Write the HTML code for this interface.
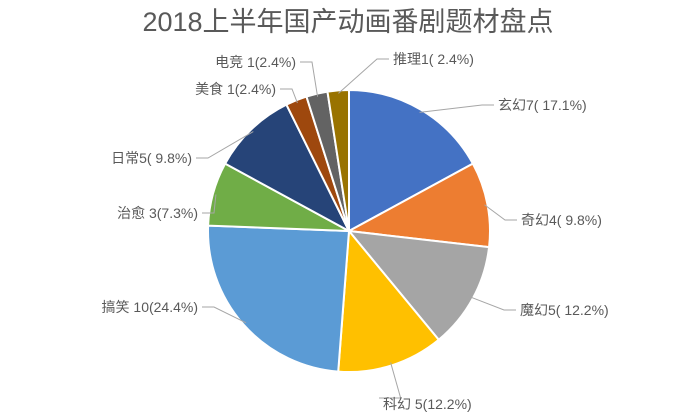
<!DOCTYPE html>
<html><head><meta charset="utf-8">
<style>
body{margin:0;background:#fff;}
svg text{font-family:"Liberation Sans","Noto Sans CJK SC",sans-serif;fill:#595959;}
</style></head>
<body>
<svg id="chart" width="694" height="413">
<text x="348" y="31" font-size="27" text-anchor="middle">2018上半年国产动画番剧题材盘点</text>
<g id="slices"></g>
<g id="labels"></g>
</svg>
<script>
const categories=["玄幻","奇幻","魔幻","科幻","搞笑","治愈","日常","美食","电竞","推理"];
const values=[7,4,5,5,10,3,4,1,1,1];
const labelTexts=["玄幻7( 17.1%)","奇幻4( 9.8%)","魔幻5( 12.2%)","科幻 5(12.2%)","搞笑 10(24.4%)","治愈 3(7.3%)","日常5( 9.8%)","美食 1(2.4%)","电竞 1(2.4%)","推理1( 2.4%)"];
const colors=["#4472C4","#ED7D31","#A5A5A5","#FFC000","#5B9BD5","#70AD47","#264478","#9E480E","#636363","#997300"];
const labelPos=[[498,110,"start"],[521,225,"start"],[520,315,"start"],[383,409,"start"],[198,312,"end"],[198,218,"end"],[192,163,"end"],[276,94,"end"],[296,67,"end"],[393,64,"start"]];
const cx=349,cy=231,r=141;
const NS="http://www.w3.org/2000/svg";
const total=values.reduce((a,b)=>a+b,0);
const gS=document.getElementById('slices'),gL=document.getElementById('labels');
let a0=0;
values.forEach((v,i)=>{
  const a1=a0+v/total*2*Math.PI;
  const p=(a)=>[cx+r*Math.sin(a),cy-r*Math.cos(a)];
  const [x0,y0]=p(a0),[x1,y1]=p(a1);
  const large=(a1-a0)>Math.PI?1:0;
  const path=document.createElementNS(NS,'path');
  path.setAttribute('d',`M${cx},${cy}L${x0},${y0}A${r},${r} 0 ${large} 1 ${x1},${y1}Z`);
  path.setAttribute('fill',colors[i]);
  path.setAttribute('stroke','#fff');
  path.setAttribute('stroke-width','2');
  
  
  gS.appendChild(path);
  const am=(a0+a1)/2;
  const [mx,my]=[cx+(r-3)*Math.sin(am),cy-(r-3)*Math.cos(am)];
  const lp=labelPos[i];
  const ex=lp[2]==="start"?lp[0]-4:lp[0]+4, ey=lp[1]-5;
  const ln=document.createElementNS(NS,'polyline');
  let pts;
  if(i===3) pts=`${mx},${my} ${mx+10},${ey-6} ${ex},${ey-6}`;
  else pts=`${mx},${my} ${ex+(lp[2]==="start"?-12:12)},${ey} ${ex},${ey}`;
  ln.setAttribute('points',pts);
  ln.setAttribute('fill','none');
  ln.setAttribute('stroke','#A6A6A6');
  ln.setAttribute('stroke-width','1');
  
  
  gL.appendChild(ln);
  const t=document.createElementNS(NS,'text');
  t.setAttribute('x',lp[0]);t.setAttribute('y',lp[1]);
  t.setAttribute('text-anchor',lp[2]);
  t.setAttribute('font-size','14');
  t.textContent=labelTexts[i];
  
  
  gL.appendChild(t);
  a0=a1;
});
</script>
</body></html>
